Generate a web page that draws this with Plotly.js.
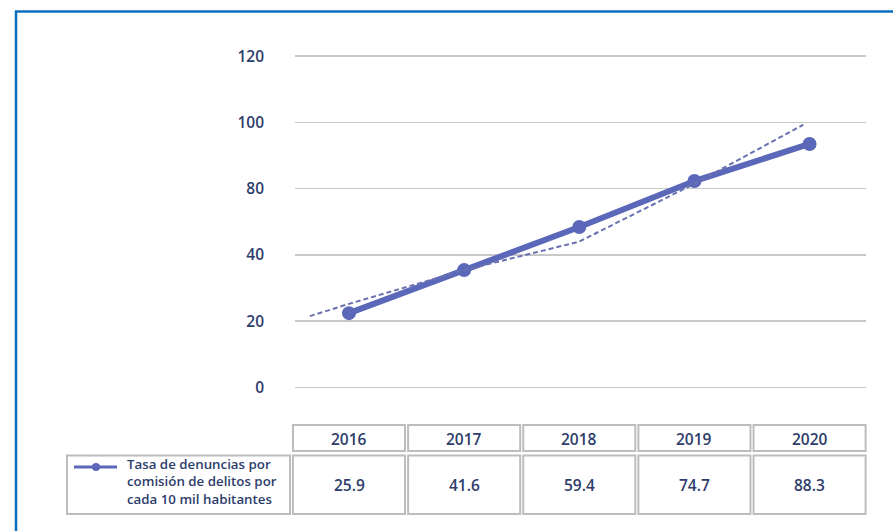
<!DOCTYPE html>
<html>
<head>
<meta charset="utf-8">
<script src="https://cdn.plot.ly/plotly-3.0.1.min.js"></script>
<style>
  html, body { margin: 0; padding: 0; background: #ffffff; }
  #chart { width: 893px; height: 531px; }
</style>
</head>
<body>
<div id="chart"></div>
<script>
// ---- data ----
const years = [2016, 2017, 2018, 2019, 2020];
// plotted positions of the series (linear gridline units)
const seriesPlotted = [22.4, 35.4, 48.4, 62.3, 73.5];
// values printed in the data table
const tableValues = ["25.9", "41.6", "59.4", "74.7", "88.3"];
// dashed trend line
const trendX = [2015.66, 2016, 2017, 2018, 2019, 2019.945];
const trendY = [21.5, 25.2, 35.4, 44.0, 61.5, 79.3];
// y axis gridlines and the labels printed next to them
const yTickVals = [0, 20, 40, 60, 80, 100];
const yTickText = ["0", "20", "40", "80", "100", "120"];
const seriesName = "Tasa de denuncias por<br>comisión de delitos por<br>cada 10 mil habitantes";

// ---- layout helpers ----
const W = 893, H = 531;
const M = { l: 295, r: 27, t: 40, b: 131 };
const PW = W - M.l - M.r, PH = H - M.t - M.b;
const XR = [2015.531, 2020.49];
const px = x => (x - M.l) / PW;
const py = y => (M.t + PH - y) / PH;
const dx = v => (v - XR[0]) / (XR[1] - XR[0]);   // x-axis value -> paper

const navy = "#2e3d6b";
const lineCol = "#5b68b9";
const cellLine = { color: "#bdbdbd", width: 2 };
const halfCell = 0.4866;
const txtFont = { family: "Open Sans", size: 15.5, color: navy, weight: 600 };

const shapes = [];
const annotations = [];

// outer blue frame (left and top)
shapes.push({ type: "line", xref: "paper", yref: "paper", x0: px(16), x1: px(16), y0: py(11), y1: py(H + 2), line: { color: "#0b6fbf", width: 2.5 } });
shapes.push({ type: "line", xref: "paper", yref: "paper", x0: px(15), x1: px(W + 2), y0: py(11.5), y1: py(11.5), line: { color: "#0b6fbf", width: 2.5 } });

// data table
years.forEach((yr, i) => {
  shapes.push({ type: "rect", xref: "paper", yref: "paper", x0: dx(yr - halfCell), x1: dx(yr + halfCell), y0: py(425), y1: py(451), line: cellLine, fillcolor: "rgba(0,0,0,0)" });
  shapes.push({ type: "rect", xref: "paper", yref: "paper", x0: dx(yr - halfCell), x1: dx(yr + halfCell), y0: py(455.5), y1: py(514), line: cellLine, fillcolor: "rgba(0,0,0,0)" });
  annotations.push({ xref: "x", yref: "paper", x: yr, y: py(438.5), xanchor: "center", yanchor: "middle", text: String(yr), showarrow: false, font: txtFont });
  annotations.push({ xref: "x", yref: "paper", x: yr, y: py(485), xanchor: "center", yanchor: "middle", text: tableValues[i], showarrow: false, font: txtFont });
});
// legend cell
shapes.push({ type: "rect", xref: "paper", yref: "paper", x0: px(67), x1: px(290), y0: py(455.5), y1: py(514), line: cellLine });
shapes.push({ type: "line", xref: "paper", yref: "paper", x0: px(74), x1: px(117), y0: py(467), y1: py(467), line: { color: lineCol, width: 3 } });
shapes.push({ type: "circle", xref: "paper", yref: "paper", x0: px(92), x1: px(100), y0: py(463), y1: py(471), line: { color: lineCol, width: 0 }, fillcolor: lineCol });
annotations.push({ xref: "paper", yref: "paper", x: px(125), y: py(481.5), xanchor: "left", yanchor: "middle", align: "left", text: seriesName, showarrow: false, font: { family: "Open Sans", size: 13.3, color: navy, weight: 600 } });

const traces = [
  {
    x: years, y: seriesPlotted, type: "scatter", mode: "lines+markers",
    line: { color: lineCol, width: 6 }, marker: { color: lineCol, size: 14 },
    hoverinfo: "skip", showlegend: false
  },
  {
    x: trendX, y: trendY, type: "scatter", mode: "lines",
    line: { color: "#6a70b0", width: 2, dash: "5px,3px" },
    hoverinfo: "skip", showlegend: false
  }
];

const layout = {
  width: W, height: H,
  margin: M,
  paper_bgcolor: "#ffffff", plot_bgcolor: "#ffffff",
  showlegend: false,
  xaxis: {
    type: "linear", range: XR,
    showgrid: false, zeroline: false, showline: false, showticklabels: false, ticks: ""
  },
  yaxis: {
    range: [-3.84, 104.9],
    tickvals: yTickVals, ticktext: yTickText,
    showgrid: true, gridcolor: "#c8c8c8", gridwidth: 1.5,
    zeroline: false, showline: false, ticks: "",
    ticklabelstandoff: 30,
    tickfont: txtFont
  },
  shapes: shapes,
  annotations: annotations
};

Plotly.newPlot("chart", traces, layout, { staticPlot: true, displayModeBar: false });
</script>
</body>
</html>
